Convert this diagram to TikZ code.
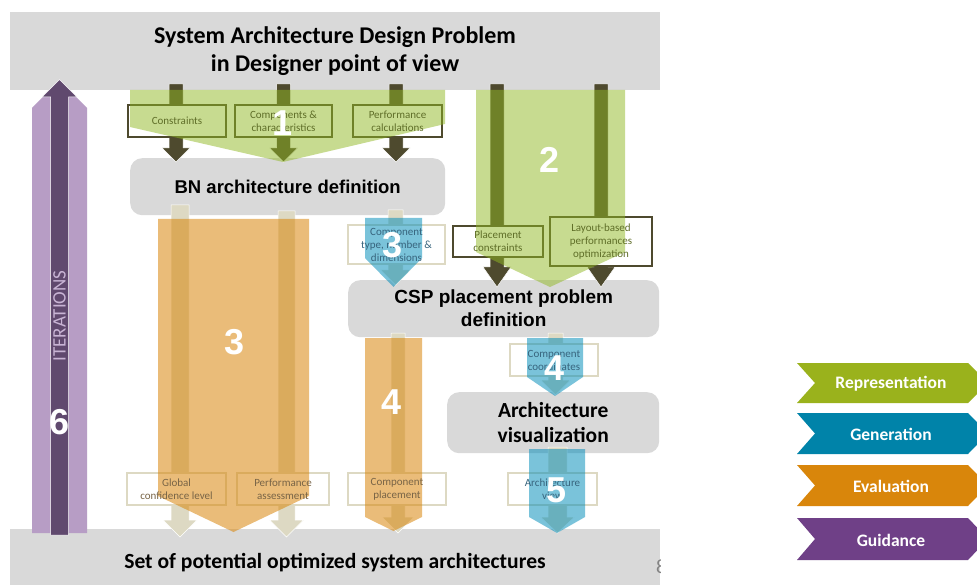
\documentclass[tikz,border=0pt]{standalone}
\usepackage{fontspec}
\setmainfont{Carlito}
\newfontfamily\arialfont{Liberation Sans}
\definecolor{bandgray}{RGB}{217,217,217}
\definecolor{darkol}{RGB}{78,74,46}
\definecolor{beige}{RGB}{221,217,195}
\definecolor{repc}{RGB}{154,178,28}
\definecolor{genc}{RGB}{0,131,169}
\definecolor{evac}{RGB}{217,134,11}
\definecolor{guic}{RGB}{111,64,135}
\definecolor{greenfill}{RGB}{145,184,35}
\definecolor{bluefill}{RGB}{0,140,185}
\definecolor{lpurp}{RGB}{183,157,197}
\definecolor{dpurp}{RGB}{96,73,110}
\definecolor{olivetext}{RGB}{95,110,40}
\definecolor{browntext}{RGB}{120,100,70}
\definecolor{bluetext}{RGB}{55,100,125}
\definecolor{iterc}{RGB}{200,180,212}
\definecolor{pagegray}{RGB}{130,130,130}
% style, cx, half stem, ytop, yhead, ytip, half head
\newcommand\mydownarrow[7]{%
  \filldraw[#1] ({#2-#3},#4) -- ({#2+#3},#4) -- ({#2+#3},#5) -- ({#2+#7},#5) -- (#2,#6)
    -- ({#2-#7},#5) -- ({#2-#3},#5) -- cycle;}
\begin{document}
\begin{tikzpicture}[x=1pt,y=-1pt,
  band/.style={fill=bandgray, inner sep=0pt},
  graybox/.style={fill=bandgray, rounded corners=12pt, inner sep=0pt},
  lbldark/.style={draw=darkol, line width=1.6pt, fill=white, inner sep=0pt},
  lblbeige/.style={draw=beige, line width=1.6pt, fill=white, inner sep=0pt},
  lbltxt/.style={font=\fontsize{11}{13}\selectfont, align=center, inner sep=0pt},
  numtxt/.style={font=\arialfont\bfseries\fontsize{36}{36}\selectfont, text=white, inner sep=0pt},
  greenov/.style={fill=greenfill, opacity=0.5},
  orangeov/.style={fill=evac, opacity=0.55},
  blueov/.style={fill=bluefill, opacity=0.52},
  darkarr/.style={fill=darkol, draw=white, line width=0.5pt},
  beigearr/.style={fill=beige, draw=white, line width=0.5pt},
  legtxt/.style={font=\bfseries\fontsize{17.5}{20}\selectfont, text=white, inner sep=0pt},
]
\useasboundingbox (0,0) rectangle (977,585);
\fill[white] (0,0) rectangle (977,585);

% ---------- gray bands and process boxes ----------
\node[band, minimum width=650, minimum height=78, align=center,
      font=\bfseries\fontsize{24}{28}\selectfont] (top) at (335,51)
  {System Architecture Design Problem\\in Designer point of view};
\node[band, minimum width=650, minimum height=67,
      font=\bfseries\fontsize{21.6}{24}\selectfont] (bottom) at (335,562.5)
  {Set of potential optimized system architectures};
\begin{scope}
  \clip (0,0) rectangle (660,585);
  \node[font=\fontsize{20}{20}\selectfont, text=pagegray, anchor=west, inner sep=0pt] (pagenum) at (656,567) {8};
\end{scope}
\node[graybox, minimum width=315, minimum height=57, anchor=north west,
      font=\arialfont\bfseries\fontsize{18.5}{22}\selectfont] (bn) at (130,158)
  {BN architecture definition};
\node[graybox, minimum width=311, minimum height=57, anchor=north west, align=center,
      font=\arialfont\bfseries\fontsize{19}{23}\selectfont] (csp) at (348,280)
  {CSP placement problem\\definition};
\node[graybox, minimum width=212, minimum height=61, anchor=north west, align=center,
      font=\bfseries\fontsize{21.5}{25}\selectfont] (vis) at (447,392)
  {Architecture\\visualization};

% ---------- iterations arrow ----------
\fill[lpurp] (32,533) -- (32,108) -- (59.5,80) -- (87,108) -- (87,533) -- cycle;
\filldraw[fill=dpurp, draw=white, line width=0.5pt] (50.5,535) -- (50.5,97) -- (42,97) -- (59.5,79.5)
  -- (77,97) -- (68.5,97) -- (68.5,535) -- cycle;
\node[rotate=90, font=\fontsize{19}{19}\selectfont, text=iterc, inner sep=0pt] (iter) at (59.5,316) {ITERATIONS};

% ---------- underlying arrows ----------
\mydownarrow{darkarr}{176}{7}{84}{148}{162}{14}
\mydownarrow{darkarr}{283.5}{7}{84}{148}{162}{14}
\mydownarrow{darkarr}{396}{7}{84}{148}{162}{14}
\mydownarrow{darkarr}{497}{7}{84}{267}{287}{14}
\mydownarrow{darkarr}{601}{7}{84}{267}{287}{14}
\mydownarrow{beigearr}{180}{9}{205}{520}{537}{17}
\mydownarrow{beigearr}{286.5}{8.5}{211}{520}{537}{17}
\mydownarrow{beigearr}{395.5}{7.5}{210}{270}{285}{15}
\mydownarrow{beigearr}{398}{7}{333}{517}{533}{16}
\mydownarrow{beigearr}{555.5}{7.5}{333}{380}{395}{15}
\mydownarrow{beigearr}{557.5}{9.5}{447}{517}{533}{17}

% ---------- label boxes ----------
\node[lbldark, minimum width=98, minimum height=32] (cons) at (177,121) {};
\node[lbldark, minimum width=97, minimum height=32] (comp) at (283.5,121) {};
\node[lbldark, minimum width=89, minimum height=32] (perf) at (397.5,121) {};
\node[lbldark, minimum width=90, minimum height=31] (plc) at (498,241.5) {};
\node[lbldark, minimum width=102, minimum height=49] (lay) at (601,241.5) {};
\node[lblbeige, minimum width=97, minimum height=39] (ctype) at (396.5,244.5) {};
\node[lblbeige, minimum width=88, minimum height=32] (coord) at (554,360) {};
\node[lblbeige, minimum width=99, minimum height=32] (glob) at (176.5,489) {};
\node[lblbeige, minimum width=92, minimum height=32] (pass) at (283,489) {};
\node[lblbeige, minimum width=98, minimum height=32] (cplace) at (397,489) {};
\node[lblbeige, minimum width=89, minimum height=32] (aview) at (552.5,489) {};

% ---------- coloured overlays ----------
\fill[greenov] (130,90) -- (445,90) -- (445,124) -- (283,162) -- (130,127) -- cycle;
\fill[greenov] (476,90) -- (625,90) -- (625,252) -- (550,287) -- (476,252) -- cycle;
\fill[orangeov] (158,219) -- (309,219) -- (309,496) -- (233.5,532) -- (158,496) -- cycle;
\fill[blueov] (365,218) -- (422,218) -- (422,258) -- (393.5,287) -- (365,258) -- cycle;
\fill[orangeov] (365,338) -- (422,338) -- (422,517) -- (393.5,531) -- (365,517) -- cycle;
\fill[blueov] (527,338) -- (583,338) -- (583,377) -- (555,396) -- (527,377) -- cycle;
\fill[blueov] (529,449) -- (585,449) -- (585,517) -- (557,533) -- (529,517) -- cycle;

% ---------- label texts ----------
\node[lbltxt, text=olivetext] (consT) at (cons.center) {Constraints};
\node[lbltxt, text=olivetext] (compT) at (comp.center) {Components \&\\characteristics};
\node[lbltxt, text=olivetext] (perfT) at (perf.center) {Performance\\calculations};
\node[lbltxt, text=olivetext] (plcT) at (plc.center) {Placement\\constraints};
\node[lbltxt, text=olivetext] (layT) at (lay.center) {Layout-based\\performances\\optimization};
\node[lbltxt, text=bluetext] (ctypeT) at (ctype.center) {Component\\type, number \&\\dimensions};
\node[lbltxt, text=bluetext] (coordT) at (coord.center) {Component\\coordinates};
\node[lbltxt, text=browntext] (globT) at (glob.center) {Global\\confidence level};
\node[lbltxt, text=browntext] (passT) at (pass.center) {Performance\\assessment};
\node[lbltxt, text=browntext] (cplaceT) at (cplace.center) {Component\\placement};
\node[lbltxt, text=bluetext] (aviewT) at (aview.center) {Architecture\\view};

% ---------- step numbers ----------
\node[numtxt] (n1) at (283,123) {1};
\node[numtxt] (n2) at (550,160) {2};
\node[numtxt] (n3a) at (235,342) {3};
\node[numtxt] (n3b) at (393,245) {3};
\node[numtxt] (n4a) at (392,402) {4};
\node[numtxt] (n4b) at (555,368) {4};
\node[numtxt] (n5) at (557,490) {5};
\node[numtxt] (n6) at (59.5,422) {6};

% ---------- legend ----------
\begin{scope}
  \clip (780,340) rectangle (977,585);
  \fill[repc] (797,363) -- (968,363) -- (988,383) -- (968,403) -- (797,403) -- (815,383) -- cycle;
  \fill[genc] (797,413) -- (968,413) -- (988,433.5) -- (968,454) -- (797,454) -- (815,433.5) -- cycle;
  \fill[evac] (797,465) -- (968,465) -- (988,485.5) -- (968,506) -- (797,506) -- (815,485.5) -- cycle;
  \fill[guic] (797,518) -- (968,518) -- (988,539) -- (968,560) -- (797,560) -- (815,539) -- cycle;
\end{scope}
\node[legtxt] (legrep) at (891,384) {Representation};
\node[legtxt] (leggen) at (891,434.5) {Generation};
\node[legtxt] (legeva) at (891,486.5) {Evaluation};
\node[legtxt] (leggui) at (891,540) {Guidance};
\end{tikzpicture}
\end{document}
